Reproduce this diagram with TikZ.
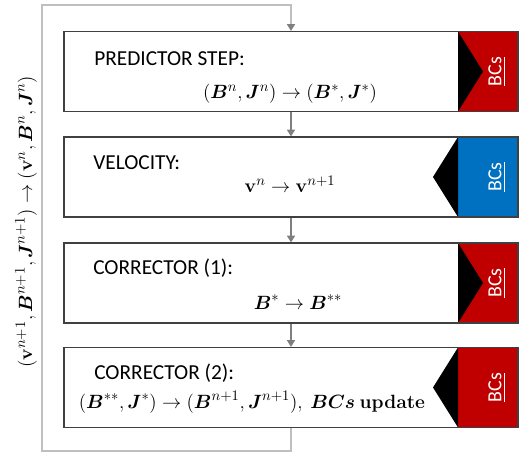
\documentclass[tikz,border=0pt]{standalone}
\usepackage{amsmath}
\usepackage[no-math]{fontspec}
\setmainfont{Carlito}
\usetikzlibrary{arrows.meta}

\definecolor{bcred}{RGB}{192,0,0}
\definecolor{bcblue}{RGB}{0,112,192}
\definecolor{boxgray}{RGB}{64,64,64}
\definecolor{loopgray}{RGB}{191,191,191}
\definecolor{arrowgray}{RGB}{127,127,127}

\tikzset{
  stepbox/.style={draw=boxgray, line width=0.9pt, minimum width=340.5pt, minimum height=60pt, inner sep=0pt},
  % tab with the black wedge pointing into the coloured part
  tabout/.style={path picture={
    \fill[#1] ([xshift=-45pt]path picture bounding box.north east) rectangle (path picture bounding box.south east);
    \fill[black] ([xshift=-45pt]path picture bounding box.north east) -- ([xshift=-26.25pt]path picture bounding box.east) -- ([xshift=-45pt]path picture bounding box.south east) -- cycle;}},
  % tab with the black wedge pointing into the white part
  tabin/.style={path picture={
    \fill[#1] ([xshift=-45pt]path picture bounding box.north east) rectangle (path picture bounding box.south east);
    \fill[black] ([xshift=-45pt]path picture bounding box.north east) -- ([xshift=-63.75pt]path picture bounding box.east) -- ([xshift=-45pt]path picture bounding box.south east) -- cycle;}},
  steptitle/.style={anchor=west, inner sep=0pt, font=\fontsize{16}{19}\selectfont},
  stepeq/.style={inner sep=0pt, font=\fontsize{15}{18}\selectfont},
  bcs/.style={rotate=90, text=white, inner sep=0pt, font=\fontsize{15}{18}\selectfont},
  flow/.style={draw=arrowgray, line width=0.8pt, -{Triangle[width=6pt,length=5pt]}},
  loopline/.style={draw=loopgray, line width=0.9pt, -{Triangle[width=6pt,length=5pt,color=arrowgray]}}
}

\begin{document}
\begin{tikzpicture}[x=0.75pt,y=0.75pt,yscale=-1]
\path[use as bounding box] (0,0) rectangle (519,452);

% steps
\node[stepbox, tabout=bcred] (pred) at (291,71.5) {};
\node[stepbox, tabin=bcblue] (vel) at (291,177) {};
\node[stepbox, tabout=bcred] (corr1) at (291,283) {};
\node[stepbox, tabin=bcred] (corr2) at (291,387.5) {};

% BCs labels
\node[bcs] (bcspred) at (497,71.5) {\underline{BCs}};
\node[bcs] (bcsvel) at (497,177) {\underline{BCs}};
\node[bcs] (bcscorr1) at (497,283) {\underline{BCs}};
\node[bcs] (bcscorr2) at (497,387.5) {\underline{BCs}};

% Text Node
\node[steptitle] (predtitle) at (94,59) {PREDICTOR STEP:};
\node[stepeq] (predeq) at (290,94) {$(\boldsymbol{B}^{n},\boldsymbol{J}^{n}) \rightarrow (\boldsymbol{B}^{*},\boldsymbol{J}^{*})$};
% Text Node
\node[steptitle] (veltitle) at (93,163) {VELOCITY:};
\node[stepeq] (veleq) at (290,184) {$\mathbf{v}^{n} \rightarrow \mathbf{v}^{n+1}$};
% Text Node
\node[steptitle] (corr1title) at (93,268) {CORRECTOR (1):};
\node[stepeq] (corr1eq) at (298,302) {$\boldsymbol{B}^{*} \rightarrow \boldsymbol{B}^{**}$};
% Text Node
\node[steptitle] (corr2title) at (94,373) {CORRECTOR (2):};
\node[stepeq] (corr2eq) at (252,402) {$(\boldsymbol{B}^{**},\boldsymbol{J}^{*}) \rightarrow (\boldsymbol{B}^{n+1},\boldsymbol{J}^{n+1}),\ \boldsymbol{BCs}\ \mathbf{update}$};

% Text Node
\node[rotate=90, inner sep=0pt, font=\fontsize{15}{18}\selectfont] (cyclelabel) at (26,222) {$(\mathbf{v}^{n+1},\boldsymbol{B}^{n+1},\boldsymbol{J}^{n+1}) \rightarrow (\mathbf{v}^{n},\boldsymbol{B}^{n},\boldsymbol{J}^{n})$};

% connectors
\draw[flow] (pred) -- (vel);
\draw[flow] (vel) -- (corr1);
\draw[flow] (corr1) -- (corr2);

\coordinate (loopbl) at (42,451);
\coordinate (looptl) at (42,5);
\draw[loopline] (corr2.south) |- (loopbl) -- (looptl) -| (pred.north);
\end{tikzpicture}
\end{document}
